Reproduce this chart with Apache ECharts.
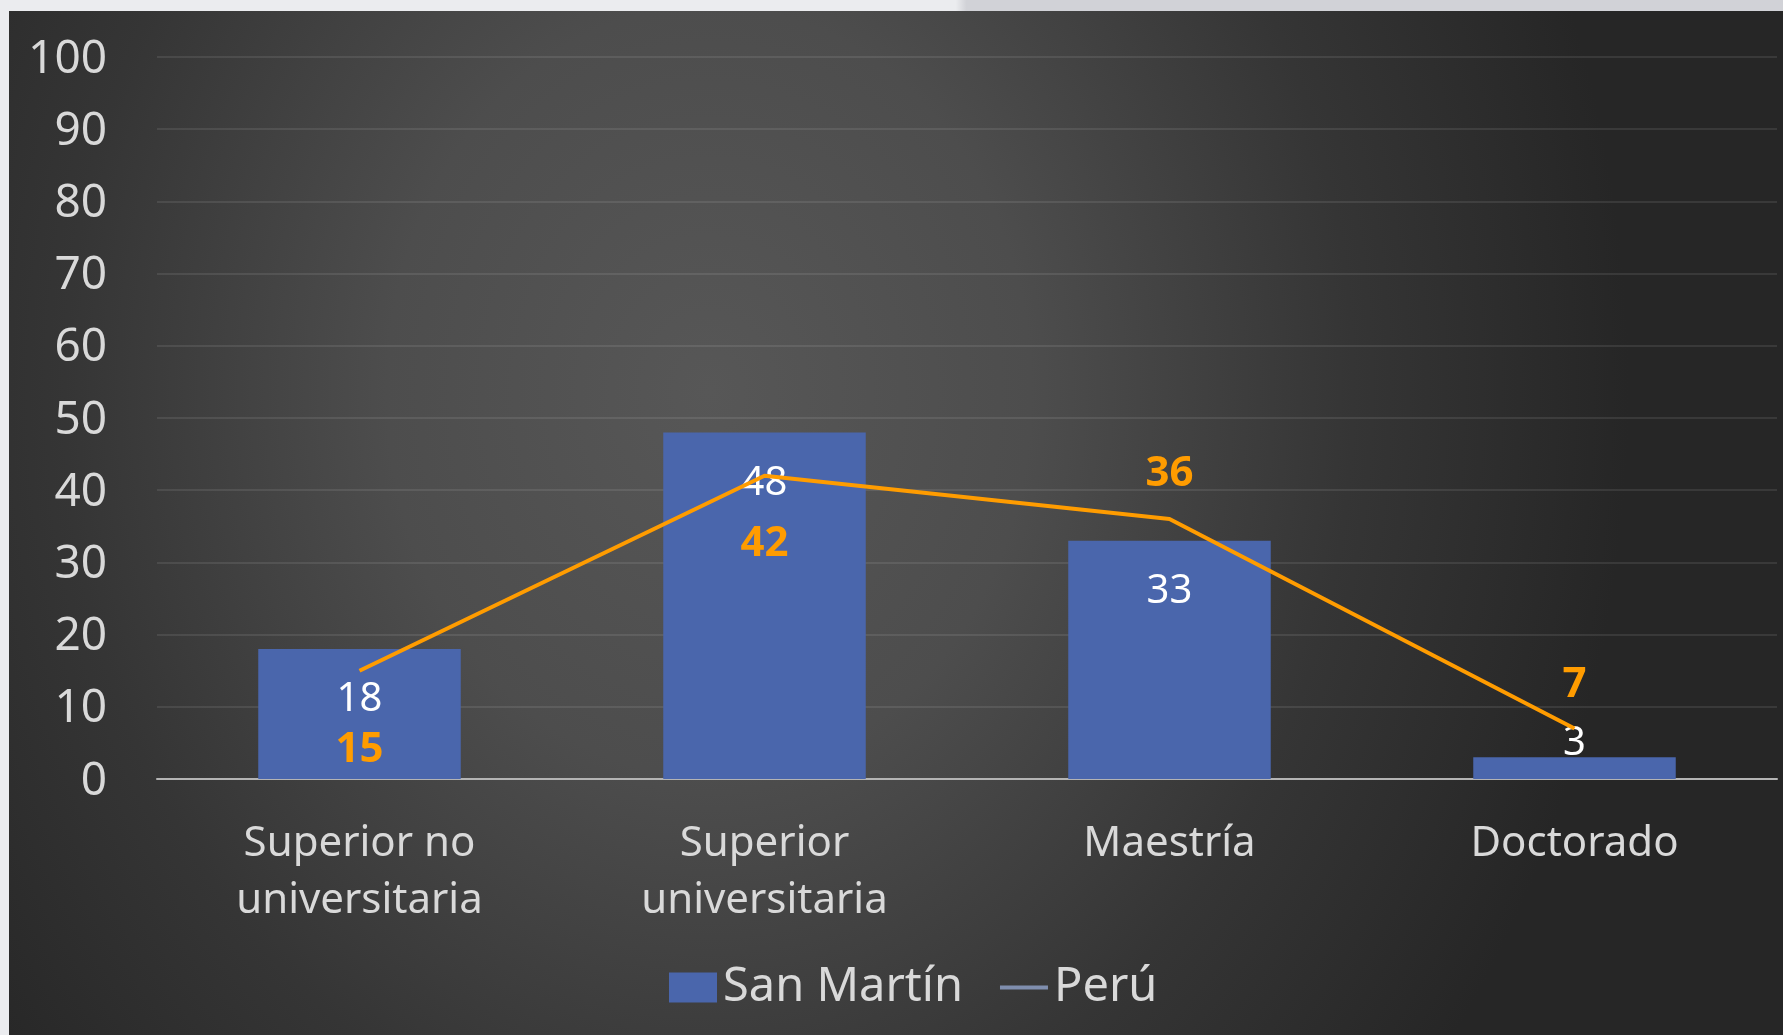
<!DOCTYPE html>
<html>
<head>
<meta charset="utf-8">
<script src="https://cdn.jsdelivr.net/npm/echarts@6/dist/echarts.min.js"></script>
<style>
  html, body { margin: 0; padding: 0; width: 1783px; height: 1035px; overflow: hidden;
    background: linear-gradient(to right, #ebecef 0%, #ebecef 53.6%, #d1d2d7 54.2%, #d1d2d7 100%); }
  #chart { position: absolute; left: 9px; top: 11px; width: 1774px; height: 1024px;
    background: radial-gradient(ellipse 920px 1100px at 700px 380px, #575757 0%, #4d4d4d 35%, #353535 70%, #262626 100%); }
</style>
</head>
<body>
<div id="chart"></div>
<script>
// Nivel educativo alcanzado (%)
const categories = ['Superior no\nuniversitaria', 'Superior\nuniversitaria', 'Maestría', 'Doctorado'];
const sanMartin = [18, 48, 33, 3];
const peru = [15, 42, 36, 7];
const yTicks = { min: 0, max: 100, interval: 10 };

const FONT = '"Noto Sans", "Open Sans", sans-serif';
const TEXT = '#d9d9d9';
const BAR = '#4a66ac';
const LINE = '#ff9c00';

// label placement for the Perú values
const peruLabelPlace = [
  { position: 'bottom', distance: 59 },
  { position: 'bottom', distance: 48 },
  { position: 'top', distance: 25 },
  { position: 'top', distance: 23 }
];

const chart = echarts.init(document.getElementById('chart'), null, { renderer: 'canvas' });
chart.setOption({
  backgroundColor: 'transparent',
  animation: false,
  textStyle: { fontFamily: FONT },
  grid: { left: 148, right: 6, top: 46, bottom: 256, containLabel: false },
  legend: {
    left: 655, top: 948,
    itemWidth: 48, itemHeight: 30, itemGap: 37,
    textStyle: { color: TEXT, fontSize: 47, fontFamily: FONT, padding: [0, 0, 0, 1] },
    data: [
      { name: 'San Martín', icon: 'rect', itemStyle: { color: BAR } },
      { name: 'Perú', icon: 'path://M0,0H50V4H0Z', itemStyle: { color: '#7f8eae' } }
    ]
  },
  xAxis: {
    type: 'category',
    data: categories,
    axisLine: { show: true, lineStyle: { color: '#b4b4b4', width: 2 } },
    axisTick: { show: false },
    axisLabel: { color: TEXT, fontSize: 42, lineHeight: 57, margin: 37, fontFamily: FONT, interval: 0 },
    splitLine: { show: false }
  },
  yAxis: {
    type: 'value',
    min: yTicks.min, max: yTicks.max, interval: yTicks.interval,
    axisLine: { show: false },
    axisTick: { show: false },
    axisLabel: {
      color: TEXT, fontSize: 46, margin: 50, fontFamily: FONT,
      formatter: '{v|{value}}',
      rich: { v: { color: TEXT, fontSize: 46, fontFamily: FONT, padding: [5, 0, 0, 0] } }
    },
    splitLine: { lineStyle: { color: 'rgba(255,255,255,0.09)', width: 2 } }
  },
  series: [
    {
      name: 'San Martín',
      type: 'bar',
      barWidth: '50%',
      itemStyle: { color: BAR },
      label: {
        show: true, position: 'insideTop', distance: 31,
        color: '#ffffff', fontSize: 40, lineHeight: 40, fontFamily: FONT
      },
      data: sanMartin.map((v, i) => i === 3
        ? { value: v, label: { position: 'top', distance: -6 } }
        : v),
      z: 2
    },
    {
      name: 'Perú',
      type: 'line',
      symbol: 'circle',
      symbolSize: 0,
      showSymbol: true,
      lineStyle: { color: LINE, width: 4 },
      itemStyle: { color: LINE },
      label: {
        show: true, color: LINE, fontSize: 42, fontWeight: 'bold', lineHeight: 40, fontFamily: FONT
      },
      labelLayout: { hideOverlap: false },
      data: peru.map((v, i) => ({ value: v, label: peruLabelPlace[i] })),
      z: 3
    }
  ]
});
</script>
</body>
</html>
